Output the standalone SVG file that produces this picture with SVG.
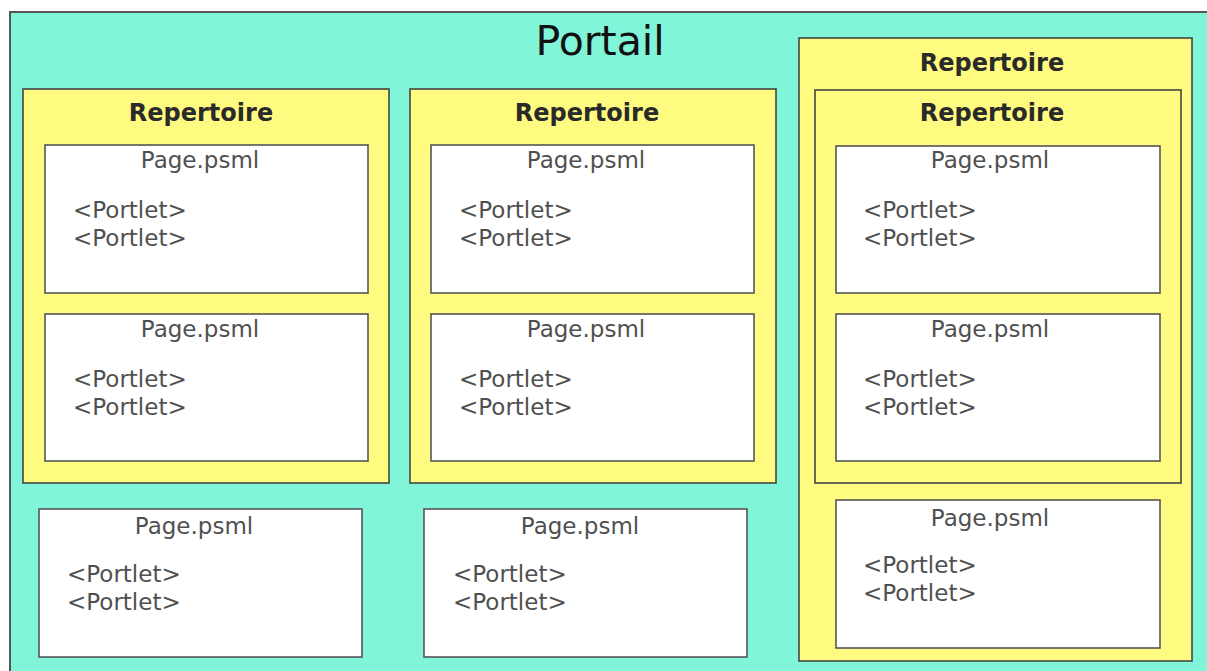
<svg xmlns="http://www.w3.org/2000/svg" width="1207" height="671" viewBox="0 0 1207 671">
<style>
.bg{fill:#81f5d8;stroke:#555;stroke-width:2}
.rep{fill:#fffb80;stroke:#444;stroke-width:1.6}
.page{fill:#ffffff;stroke:#555;stroke-width:1.6}
.title{font-family:"DejaVu Sans",sans-serif;font-size:41px;fill:#111;text-anchor:middle}
.rt{font-family:"DejaVu Sans",sans-serif;font-size:24px;font-weight:bold;fill:#2a2a2a;text-anchor:middle}
.pt{font-family:"DejaVu Sans",sans-serif;font-size:23px;fill:#505050;text-anchor:middle}
.pl{font-family:"DejaVu Sans",sans-serif;font-size:23px;fill:#505050}
</style>
<rect x="0" y="0" width="1207" height="671" fill="#ffffff"/>
<g id="portail">
<rect class="bg" x="10" y="12" width="1210" height="670"/>
<text class="title" x="600" y="55">Portail</text>
</g>
<g id="rep1">
<rect class="rep" x="23" y="89" width="366" height="394"/>
<text class="rt" x="201" y="121">Repertoire</text>
</g>
<g id="rep1-page1">
<rect class="page" x="45" y="145" width="323" height="148"/>
<text class="pt" x="200" y="168">Page.psml</text>
<text class="pl" x="73" y="218">&lt;Portlet&gt;</text>
<text class="pl" x="73" y="246">&lt;Portlet&gt;</text>
</g>
<g id="rep1-page2">
<rect class="page" x="45" y="314" width="323" height="147"/>
<text class="pt" x="200" y="337">Page.psml</text>
<text class="pl" x="73" y="387">&lt;Portlet&gt;</text>
<text class="pl" x="73" y="415">&lt;Portlet&gt;</text>
</g>
<g id="rep2">
<rect class="rep" x="410" y="89" width="366" height="394"/>
<text class="rt" x="587" y="121">Repertoire</text>
</g>
<g id="rep2-page1">
<rect class="page" x="431" y="145" width="323" height="148"/>
<text class="pt" x="586" y="168">Page.psml</text>
<text class="pl" x="459" y="218">&lt;Portlet&gt;</text>
<text class="pl" x="459" y="246">&lt;Portlet&gt;</text>
</g>
<g id="rep2-page2">
<rect class="page" x="431" y="314" width="323" height="147"/>
<text class="pt" x="586" y="337">Page.psml</text>
<text class="pl" x="459" y="387">&lt;Portlet&gt;</text>
<text class="pl" x="459" y="415">&lt;Portlet&gt;</text>
</g>
<g id="page-bottom1">
<rect class="page" x="39" y="509" width="323" height="148"/>
<text class="pt" x="194" y="534">Page.psml</text>
<text class="pl" x="67" y="582">&lt;Portlet&gt;</text>
<text class="pl" x="67" y="610">&lt;Portlet&gt;</text>
</g>
<g id="page-bottom2">
<rect class="page" x="424" y="509" width="323" height="148"/>
<text class="pt" x="580" y="534">Page.psml</text>
<text class="pl" x="453" y="582">&lt;Portlet&gt;</text>
<text class="pl" x="453" y="610">&lt;Portlet&gt;</text>
</g>
<g id="rep3">
<rect class="rep" x="799" y="38" width="393" height="623"/>
<text class="rt" x="992" y="71">Repertoire</text>
</g>
<g id="rep3-inner">
<rect class="rep" x="815" y="90" width="366" height="393"/>
<text class="rt" x="992" y="121">Repertoire</text>
</g>
<g id="rep3-page1">
<rect class="page" x="836" y="146" width="324" height="147"/>
<text class="pt" x="990" y="168">Page.psml</text>
<text class="pl" x="863" y="218">&lt;Portlet&gt;</text>
<text class="pl" x="863" y="246">&lt;Portlet&gt;</text>
</g>
<g id="rep3-page2">
<rect class="page" x="836" y="314" width="324" height="147"/>
<text class="pt" x="990" y="337">Page.psml</text>
<text class="pl" x="863" y="387">&lt;Portlet&gt;</text>
<text class="pl" x="863" y="415">&lt;Portlet&gt;</text>
</g>
<g id="rep3-page3">
<rect class="page" x="836" y="500" width="324" height="148"/>
<text class="pt" x="990" y="526">Page.psml</text>
<text class="pl" x="863" y="573">&lt;Portlet&gt;</text>
<text class="pl" x="863" y="601">&lt;Portlet&gt;</text>
</g>
<g id="connectors"></g>
</svg>
